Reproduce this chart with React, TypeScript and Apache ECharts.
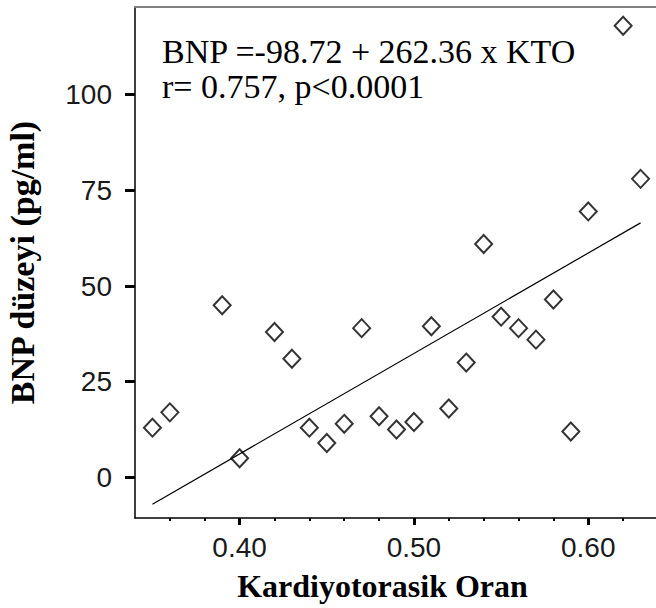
import React, { useEffect, useRef } from "react";
import * as echarts from "echarts";

// Kardiyotorasik oran (x) vs BNP düzeyi (y)
const ktoValues = [
  0.35, 0.36, 0.4, 0.44, 0.45, 0.46, 0.48, 0.49, 0.5, 0.52, 0.59, 0.39, 0.42,
  0.43, 0.47, 0.51, 0.53, 0.54, 0.55, 0.56, 0.57, 0.58, 0.6, 0.62, 0.63,
];
const bnpValues = [
  13, 17, 5, 13, 9, 14, 16, 12.5, 14.5, 18, 12, 45, 38, 31, 39, 39.5, 30, 61,
  42, 39, 36, 46.5, 69.5, 118, 78,
];
// regression line end points
const fitX = [0.35, 0.63];
const fitY = [-7, 66.5];

const xMajorTicks = [0.4, 0.5, 0.6];
const xMinorTicks = [0.36, 0.38, 0.42, 0.44, 0.46, 0.48, 0.52, 0.54, 0.56, 0.58, 0.62];
const yTicks = [0, 25, 50, 75, 100];
const annotationLines = ["BNP =-98.72 + 262.36 x KTO", "r= 0.757, p<0.0001"];
const xTitle = "Kardiyotorasik Oran";
const yTitle = "BNP düzeyi (pg/ml)";

const X_MIN = 0.34;
const X_MAX = 0.64;
const Y_MIN = -10.6;
const Y_MAX = 122.9;

export default function App() {
  const ref = useRef<HTMLDivElement>(null);

  useEffect(() => {
    if (!ref.current) return;
    const chart = echarts.init(ref.current, undefined, { renderer: "svg" });
    const serif = "'Liberation Serif', 'Times New Roman', serif";
    const sans = "'Liberation Sans', Arial, sans-serif";

    chart.setOption({
      animation: false,
      backgroundColor: "#ffffff",
      grid: {
        left: 135,
        right: -2,
        top: 7,
        bottom: 90,
        containLabel: false,
        outerBoundsMode: "none",
      },
      xAxis: [
        {
          type: "value",
          position: "bottom",
          min: X_MIN,
          max: X_MAX,
          axisLine: { show: true, onZero: false, lineStyle: { color: "#000", width: 1.5 } },
          axisTick: {
            show: true,
            customValues: xMajorTicks,
            length: 7,
            lineStyle: { color: "#000", width: 3 },
          },
          axisLabel: {
            show: true,
            customValues: xMajorTicks,
            margin: 15,
            fontFamily: sans,
            fontSize: 28,
            color: "#1a1a1a",
            formatter: (v: number) => v.toFixed(2),
          },
          splitLine: { show: false },
          name: xTitle,
          nameLocation: "middle",
          nameGap: 52,
          nameTextStyle: {
            fontFamily: serif,
            fontSize: 32,
            fontWeight: "bold",
            color: "#000",
            padding: [0, 28, 0, 0],
          },
        },
        {
          type: "value",
          position: "bottom",
          min: X_MIN,
          max: X_MAX,
          axisLine: { show: false, onZero: false },
          axisTick: {
            show: true,
            customValues: xMinorTicks,
            length: 3,
            lineStyle: { color: "#000", width: 2 },
          },
          axisLabel: { show: false },
          splitLine: { show: false },
        },
        {
          type: "value",
          position: "top",
          min: X_MIN,
          max: X_MAX,
          axisLine: { show: true, onZero: false, lineStyle: { color: "#808080", width: 2 } },
          axisTick: { show: false },
          axisLabel: { show: false },
          splitLine: { show: false },
        },
      ],
      yAxis: [
        {
          type: "value",
          min: Y_MIN,
          max: Y_MAX,
          axisLine: { show: true, onZero: false, lineStyle: { color: "#000", width: 1.5 } },
          axisTick: {
            show: true,
            customValues: yTicks,
            length: 10,
            lineStyle: { color: "#000", width: 3 },
          },
          axisLabel: {
            show: true,
            customValues: yTicks,
            margin: 23,
            fontFamily: sans,
            fontSize: 28,
            color: "#1a1a1a",
          },
          splitLine: { show: false },
          name: yTitle,
          nameLocation: "middle",
          nameGap: 96,
          nameTextStyle: {
            fontFamily: serif,
            fontSize: 34,
            fontWeight: "bold",
            color: "#000",
          },
        },
      ],
      graphic: [
        {
          type: "text",
          x: 162,
          y: 51.5,
          style: {
            text: annotationLines[0],
            fontFamily: serif,
            fontSize: 34,
            fill: "#000",
            align: "left",
            verticalAlign: "middle",
          },
        },
        {
          type: "text",
          x: 162,
          y: 86.5,
          style: {
            text: annotationLines[1],
            fontFamily: serif,
            fontSize: 34,
            fill: "#000",
            align: "left",
            verticalAlign: "middle",
          },
        },
      ],
      series: [
        {
          type: "line",
          xAxisIndex: 0,
          yAxisIndex: 0,
          data: fitX.map((x, i) => [x, fitY[i]]),
          showSymbol: false,
          symbol: "none",
          lineStyle: { color: "#000", width: 1.2 },
          silent: true,
        },
        {
          type: "scatter",
          xAxisIndex: 0,
          yAxisIndex: 0,
          data: ktoValues.map((x, i) => [x, bnpValues[i]]),
          symbol: "diamond",
          symbolSize: [17, 18],
          itemStyle: {
            color: "rgba(255,255,255,0)",
            borderColor: "#000",
            borderWidth: 2,
          },
        },
      ],
    });

    return () => chart.dispose();
  }, []);

  return (
    <div
      ref={ref}
      style={{ position: "fixed", left: 0, top: 0, width: 656, height: 608 }}
    />
  );
}
